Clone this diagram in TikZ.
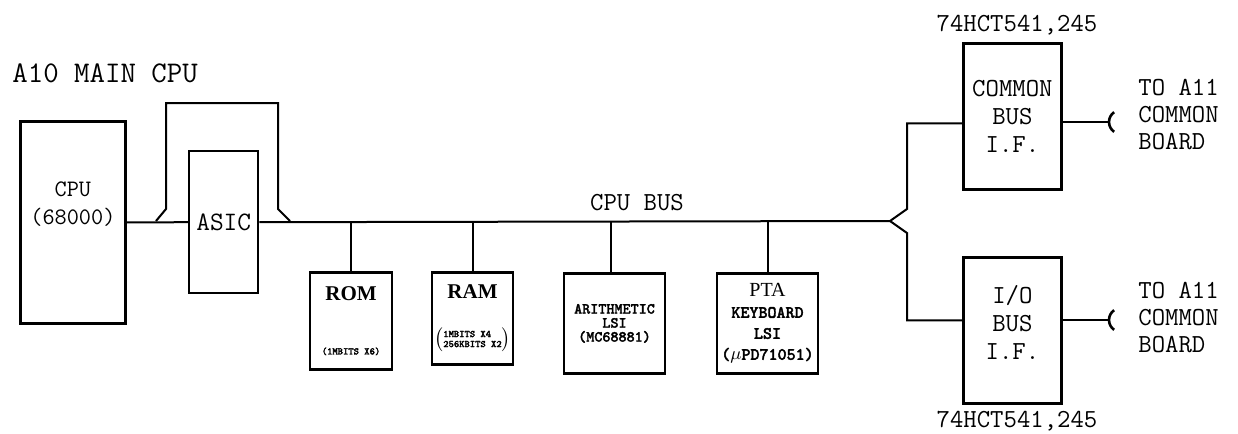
\documentclass[tikz,border=0pt]{standalone}
\usepackage{fontspec}
\setmainfont{Liberation Serif}
\setmonofont{Latin Modern Mono}[BoldFont={Latin Modern Mono}, BoldFeatures={FakeBold=2.5}]
\usetikzlibrary{positioning,calc}

\begin{document}
\begin{tikzpicture}[
        x=0.5pt, y=-0.5pt,
        blk/.style={rectangle, draw, line width=1.4pt, inner sep=0pt, align=center, font=\ttfamily\fontsize{13}{14}\selectfont},
        chip/.style={blk, minimum width=41pt, minimum height=49pt, anchor=north},
        wire/.style={line width=1pt},
        lbl/.style={font=\ttfamily\fontsize{13}{13.5}\selectfont, inner sep=0pt},
        small/.style={font=\ttfamily\bfseries\fontsize{7.6}{7}\selectfont},
    ]
    \useasboundingbox (0,0) rectangle (1238,434);

    % === CPU side ===
    \node[lbl, anchor=west, font=\ttfamily\fontsize{15}{15}\selectfont] (title) at (12,73) {A10 MAIN CPU};
    \node[blk, anchor=north west, minimum width=52.5pt, minimum height=101pt, font=\ttfamily\fontsize{11.8}{14}\selectfont] (cpu) at (19,120) {CPU\\(68000)\\[5pt]};
    \node[blk, anchor=north west, minimum width=34.5pt, minimum height=71pt, line width=1.2pt, font=\ttfamily\fontsize{13.3}{14}\selectfont] (asic) at (188,150) {ASIC};

    \coordinate (br1) at (156,221);
    \coordinate (br2) at (290,221);
    \coordinate (tee) at (890,221);

    \draw[wire] (cpu.east) -- (asic.west);
    \draw[wire] (asic.east) -- (tee);
    \draw[wire] (br1) -- ++(10,-12) -- ++(0,-106) -- ++(112,0) -- ++(0,106) -- (br2);

    \node[lbl] (buslbl) at (637,203) {CPU BUS};

    % === Memory and LSIs ===
    \node[chip, minimum height=48.5pt] (rom) at (351,271) {\rmfamily\bfseries\fontsize{10.5}{12}\selectfont ROM\\[13pt]\ttfamily\bfseries\fontsize{5}{5}\selectfont (1MBITS X6)};
    \node[chip, minimum width=40.5pt, minimum height=46pt] (ram) at (472.5,271) {\rmfamily\bfseries\fontsize{10.5}{12}\selectfont RAM\\[8pt]\ttfamily\bfseries\fontsize{5}{5}\selectfont $\left(\begin{tabular}{@{}l@{}}1MBITS X4\\256KBITS X2\end{tabular}\right)$};
    \node[chip, minimum width=50.5pt, minimum height=50pt, small] (alsi) at (614.5,272) {ARITHMETIC\\LSI\\(MC68881)};
    \node[chip, minimum width=50.5pt, minimum height=50pt, font=\ttfamily\bfseries\fontsize{8.6}{10.5}\selectfont] (pta) at (767.5,272) {{\rmfamily\mdseries\fontsize{10}{10}\selectfont PTA}\\KEYBOARD\\LSI\\($\mu$PD71051)};

    \draw[wire] (rom.north) -- (rom.north |- tee);
    \draw[wire] (ram.north) -- (ram.north |- tee);
    \draw[wire] ([xshift=-2pt]alsi.north) -- ([xshift=-2pt]alsi.north |- tee);
    \draw[wire] (pta.north) -- (pta.north |- tee);

    % === Bus interfaces ===
    \node[blk, anchor=north west, minimum width=49pt, minimum height=73pt] (cbus) at (962,42) {COMMON\\BUS\\I.F.};
    \node[blk, anchor=north west, minimum width=49pt, minimum height=73pt] (iobus) at (962,256) {I/O\\BUS\\I.F.\\[-6pt]};
    \node[lbl] (cpart) at (1017,25) {74HCT541,245};
    \node[lbl] (iopart) at (1017,421) {74HCT541,245};

    \draw[wire] (tee) -- ++(17,-12) |- ([yshift=-3.5pt]cbus.west);
    \draw[wire] (tee) -- ++(17,12) |- ([yshift=5pt]iobus.west);

    % === Connectors to A11 ===
    \coordinate (jack1) at (1109,122);
    \coordinate (jack2) at (1109,320);
    \draw[wire] (jack1 -| cbus.east) -- (jack1);
    \draw[wire] (jack2 -| iobus.east) -- (jack2);
    \draw[line width=1.3pt] (jack1) arc[start angle=180, end angle=125, radius=12] (jack1) arc[start angle=180, end angle=235, radius=12];
    \draw[line width=1.3pt] (jack2) arc[start angle=180, end angle=125, radius=12] (jack2) arc[start angle=180, end angle=235, radius=12];

    \node[lbl, anchor=west, align=left] (to1) at (1138,115) {TO A11\\COMMON\\BOARD};
    \node[lbl, anchor=west, align=left] (to2) at (1138,318) {TO A11\\COMMON\\BOARD};

    \end{tikzpicture}
\end{document}
